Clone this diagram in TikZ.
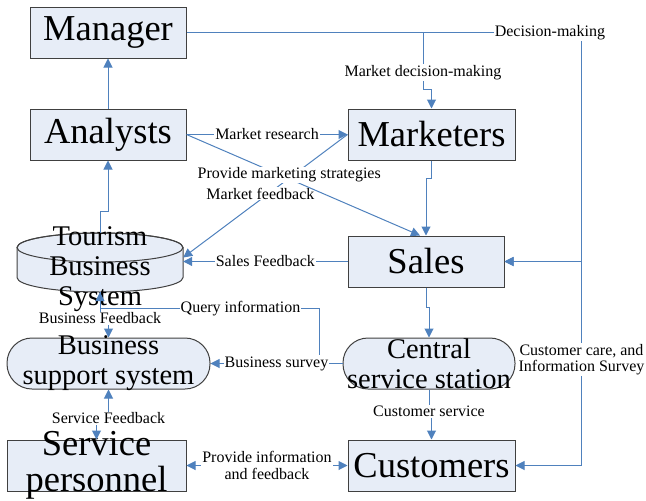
\documentclass[tikz,border=0pt]{standalone}
\usepackage{fontspec}
\setmainfont{Liberation Serif}
\usetikzlibrary{arrows.meta,calc}
\definecolor{linkblue}{RGB}{79,129,189}
\definecolor{boxfill}{RGB}{231,237,247}
\definecolor{boxedge}{RGB}{64,64,64}
\begin{document}
\begin{tikzpicture}[x=1pt,y=-1pt,
    box/.style={draw=boxedge,fill=boxfill,line width=1pt,inner sep=0pt},
    roundbox/.style={box,rounded corners=25pt},
    big/.style={font=\fontsize{36.5}{36}\selectfont,align=center},
    mid/.style={font=\fontsize{28.5}{30}\selectfont,align=center},
    lbl/.style={font=\fontsize{16}{16.5}\selectfont,fill=white,inner sep=1pt,align=center},
    link/.style={draw=linkblue,line width=1pt,-{Triangle[length=9pt,width=9pt]}},
    dlink/.style={link,{Triangle[length=9pt,width=9pt]}-{Triangle[length=9pt,width=9pt]}}]
\useasboundingbox (0,0) rectangle (646,501);
% tourism business system (cylinder)
\draw[box] (17,247.5) -- (17,277.5) arc[start angle=180,end angle=0,x radius=83,y radius=14.5]
    -- (183,247.5) arc[start angle=0,end angle=-180,x radius=83,y radius=14.5] -- cycle;
\draw[box,fill=none] (100,247.5) ellipse[x radius=83,y radius=14.5];
\node[minimum width=166pt,minimum height=59pt,inner sep=0pt,
    label={[mid,yshift=-7pt]center:Tourism\\Business\\System}] (tbs) at (100,262.5) {};
% boxes
\node[box,minimum width=156pt,minimum height=51pt,big] (mgr) at (108,32.5) {Manager};
\node[box,minimum width=156pt,minimum height=51pt,big] (ana) at (108,134.5) {Analysts};
\node[box,minimum width=167pt,minimum height=51pt,big] (mkt) at (431.5,134.5) {Marketers};
\node[box,minimum width=156pt,minimum height=51pt,big] (sal) at (426,261.5) {Sales};
\node[roundbox,minimum width=203pt,minimum height=51pt,
    label={[mid]center:Business\\support system}] (bss) at (108.5,363.5) {};
\node[roundbox,minimum width=172pt,minimum height=51pt,
    label={[mid]center:Central\\service station}] (css) at (429,363.5) {};
\node[box,minimum width=179pt,minimum height=51pt,
    label={[big]center:Service\\personnel}] (sp) at (96.5,465.5) {};
\node[box,minimum width=167pt,minimum height=51pt,big] (cus) at (431.5,465.5) {Customers};
\coordinate (mdm) at (423,32.5);
% connectors
\draw[link] (ana) -- (mgr);
\draw[link] (tbs.north) -- ++(0,-21) -| (ana.south);
\draw[link] (mgr.east) -| node[lbl,pos=.46] {Decision-making} ($(sal.east)+(77,0)$) -- (sal.east);
\draw[link] (mdm) -- ++(0,57) node[lbl,pos=.7] {Market decision-making} -| (mkt.north);
\draw[link] (ana) -- (mkt) node[lbl,midway] {Market research};
\draw[link] (mkt.west) -- ([yshift=5pt]tbs.east) node[lbl,pos=.53,yshift=6pt] {Market feedback};
\draw[link] (ana.east) -- ([xshift=-6pt]sal.north) node[lbl,pos=.44,yshift=4pt] {Provide marketing strategies};
\draw[link] (mkt.south) -- ++(0,18) -| (sal.north);
\draw[link] (sal.west) -- (sal.west -| tbs.east) node[lbl,midway] {Sales Feedback};
\draw[link] (sal.south) -- ++(0,20) -| (css.north);
\draw[link] (css.west) -- ++(-23,0) |- node[lbl,pos=.68] {Query information} ($(tbs.south)+(0,16)$) -- (tbs.south);
\draw[link] (css.west) -- (bss.east) node[lbl,midway] {Business survey};
\draw[link] (tbs.south) -- ++(0,26) node[lbl,pos=1] {Business Feedback} -| (bss.north);
\draw[dlink] (bss.south) -- ++(0,29) node[lbl,pos=1] {Service Feedback} -| (sp.north);
\draw[link] (css.south) -- ++(0,22) node[lbl,pos=1] {Customer service} -| (cus.north);
\draw[dlink] (sp.east) -- (cus.west) node[lbl,midway] {Provide information\\and feedback};
\draw[dlink] (sal.east) -- ++(77,0) |- node[lbl,pos=.24] {Customer care, and\\Information Survey} (cus.east);
\end{tikzpicture}
\end{document}
